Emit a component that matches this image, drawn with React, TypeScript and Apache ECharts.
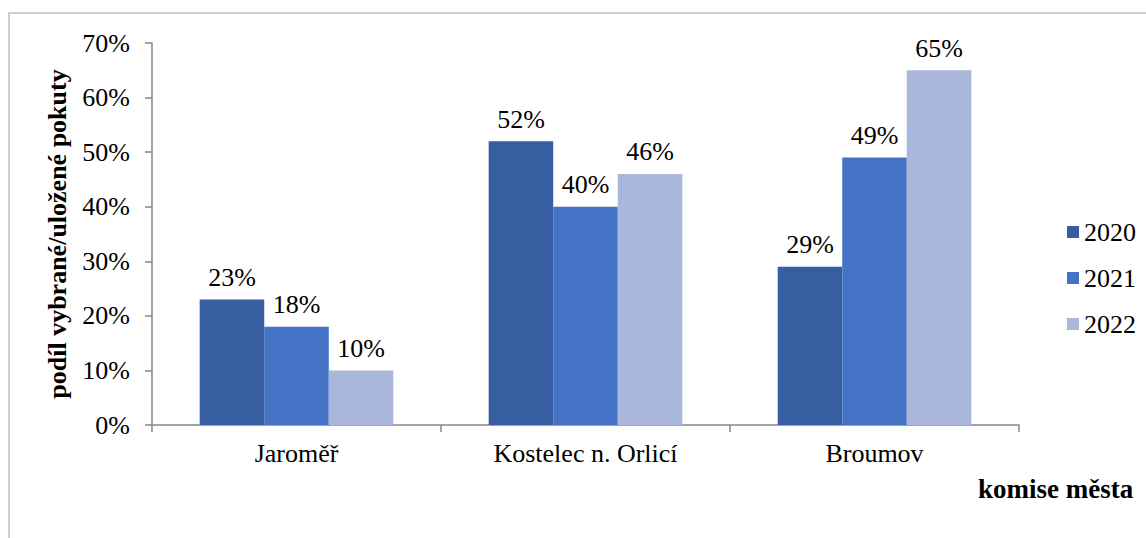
import React, { useEffect, useRef } from "react";
import * as echarts from "echarts";

const categories = ["Jaroměř", "Kostelec n. Orlicí", "Broumov"];
const seriesNames = ["2020", "2021", "2022"];
const values2020 = [23, 52, 29];
const values2021 = [18, 40, 49];
const values2022 = [10, 46, 65];
const yTicks = { min: 0, max: 70, interval: 10 };
const yTitle = "podíl vybrané/uložené pokuty";
const xTitle = "komise města";

const colors = ["#385EA2", "#4472C4", "#A9B7DA"];
const FONT = "Liberation Serif";

export default function App() {
  const ref = useRef<HTMLDivElement>(null);
  useEffect(() => {
    if (!ref.current) return;
    const chart = echarts.init(ref.current, null, { renderer: "svg" });
    const data = [values2020, values2021, values2022];
    chart.setOption({
      animation: false,
      textStyle: { fontFamily: FONT, color: "#000" },
      grid: { left: 152, right: 127, top: 43, bottom: 113, containLabel: false },
      legend: {
        orient: "vertical",
        left: 1062,
        top: 214,
        itemWidth: 12,
        itemHeight: 12,
        itemGap: 20,
        icon: "rect",
        data: seriesNames,
        textStyle: { fontFamily: FONT, fontSize: 26, lineHeight: 26, color: "#000" },
      },
      xAxis: {
        type: "category",
        data: categories,
        axisLine: { lineStyle: { color: "#868686", width: 1.5 } },
        axisTick: { show: true, alignWithLabel: false, length: 7, lineStyle: { color: "#868686", width: 1.5 } },
        axisLabel: { fontFamily: FONT, fontSize: 26, color: "#000", margin: 15 },
      },
      yAxis: {
        type: "value",
        min: yTicks.min,
        max: yTicks.max,
        interval: yTicks.interval,
        name: yTitle,
        nameLocation: "middle",
        nameRotate: 90,
        nameGap: 82,
        nameTextStyle: { fontFamily: FONT, fontSize: 26, fontWeight: "bold", color: "#000" },
        axisLine: { show: true, lineStyle: { color: "#868686", width: 1.5 } },
        axisTick: { show: true, length: 7, lineStyle: { color: "#868686", width: 1.5 } },
        splitLine: { show: false },
        axisLabel: { fontFamily: FONT, fontSize: 26, color: "#000", margin: 22, formatter: "{value}%" },
      },
      graphic: [
        {
          type: "rect",
          shape: { x: 9, y: 13, width: 1300, height: 700 },
          style: { fill: "none", stroke: "#BFBFBF", lineWidth: 1.5 },
          silent: true,
        },
        {
          type: "text",
          x: 978,
          y: 489,
          style: {
            text: xTitle,
            fontFamily: FONT,
            fontSize: 27,
            fontWeight: "bold",
            fill: "#000",
            textAlign: "left",
            textVerticalAlign: "middle",
          },
        },
      ],
      series: seriesNames.map((name, i) => ({
        name,
        type: "bar",
        data: data[i],
        barGap: "0%",
        barCategoryGap: "33%",
        itemStyle: { color: colors[i] },
        label: {
          show: true,
          position: "top",
          distance: 9,
          formatter: "{c}%",
          fontFamily: FONT,
          fontSize: 26,
          color: "#000",
        },
      })),
    });
    return () => chart.dispose();
  }, []);
  return (
    <div
      ref={ref}
      style={{ position: "absolute", left: 0, top: 0, width: 1146, height: 538, background: "#fff" }}
    />
  );
}
